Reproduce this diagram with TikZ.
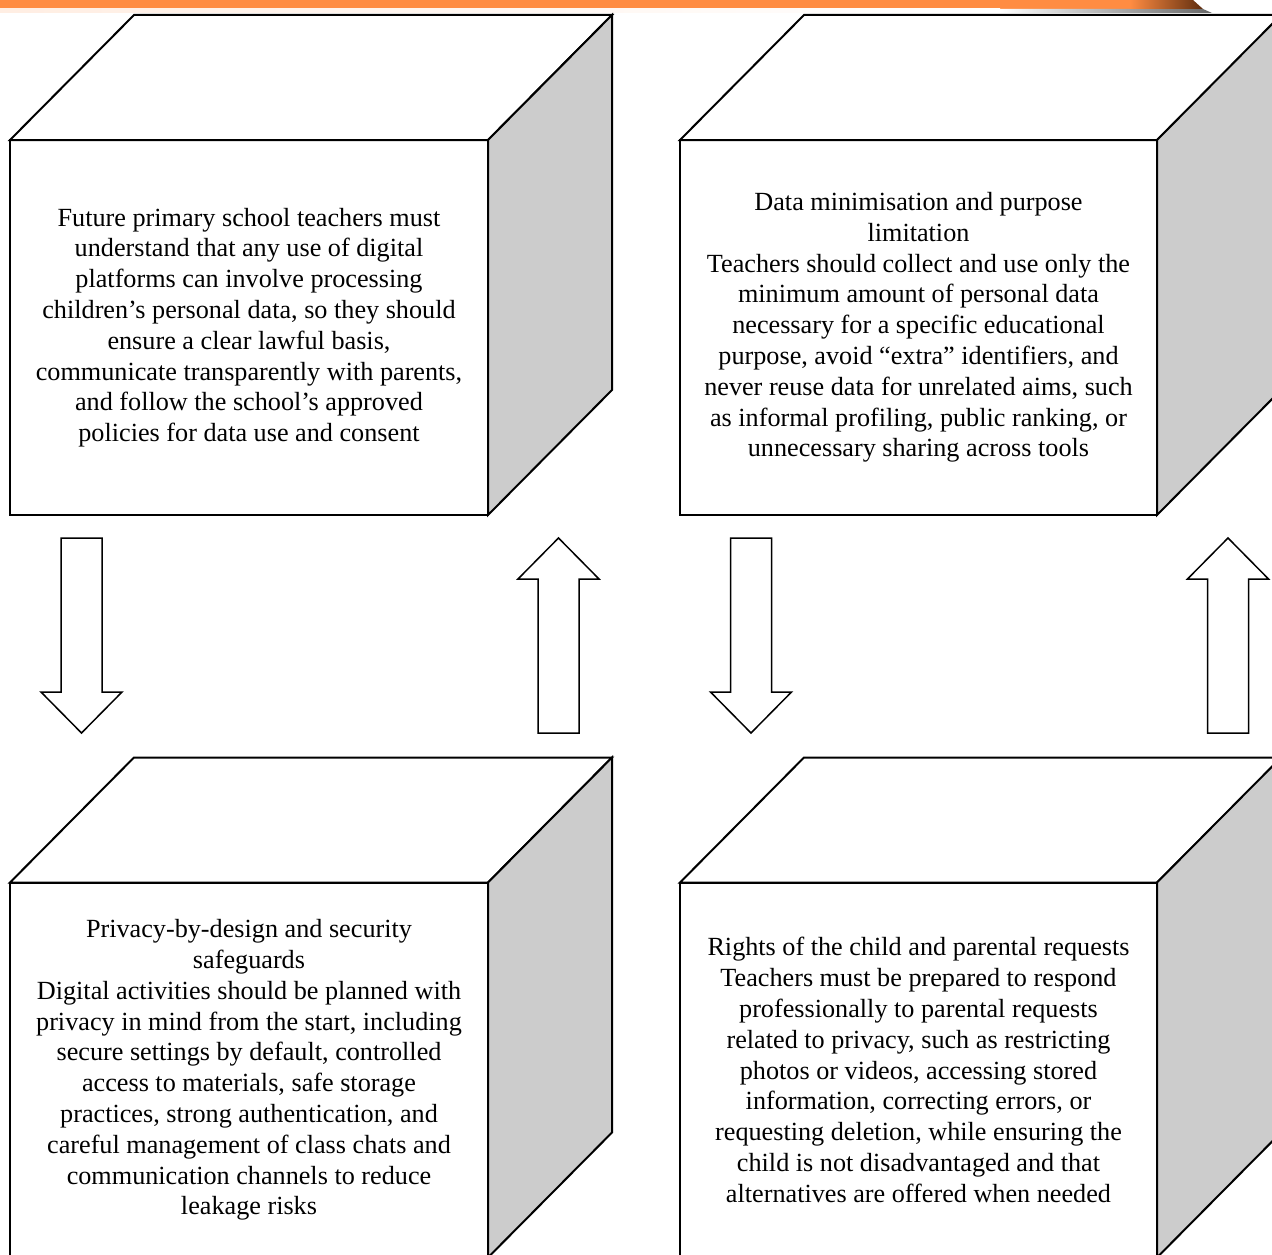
\documentclass[tikz,border=0pt]{standalone}
\usepackage{fontspec}
\setmainfont{Liberation Serif}
\usetikzlibrary{calc}
\definecolor{barorange}{RGB}{255,140,66}
\definecolor{barbrown}{RGB}{95,45,15}
\definecolor{sidegray}{RGB}{204,204,204}
\tikzset{
  front/.style={draw, line width=2pt, fill=white, minimum width=478pt, minimum height=375pt,
    align=center, inner sep=0pt, outer sep=0pt, font=\fontsize{26.2}{30.8}\selectfont},
  face/.style={draw, line width=2pt, line join=miter, fill=white},
  sideface/.style={face, fill=sidegray},
  blockarr/.style={draw, line width=1.5pt, fill=white, line join=miter}
}
% top and side of a box, hung on the front node
\newcommand{\boxfaces}[1]{%
  \draw[face] (#1.north west) -- ++(124,-125) -- ++(478,0) -- (#1.north east) -- cycle;
  \draw[sideface] (#1.north east) -- ++(124,-125) -- ++(0,375) -- (#1.south east) -- cycle;}
% hollow arrows: x, top, bottom
\newcommand{\blkdown}[3]{%
  \draw[blockarr] (#1-20.5,#2) -- (#1+20.5,#2) -- (#1+20.5,#3-41) -- (#1+40.5,#3-41)
    -- (#1,#3) -- (#1-40.5,#3-41) -- (#1-20.5,#3-41) -- cycle;}
\newcommand{\blkup}[3]{%
  \draw[blockarr] (#1-20.5,#3) -- (#1+20.5,#3) -- (#1+20.5,#2+41) -- (#1+40.5,#2+41)
    -- (#1,#2) -- (#1-40.5,#2+41) -- (#1-20.5,#2+41) -- cycle;}

\begin{document}
\begin{tikzpicture}[x=1pt, y=-1pt]
    \useasboundingbox (0,0) rectangle (1272,1255);
    \clip (0,0) rectangle (1272,1255);
    \fill[white] (0,0) rectangle (1272,1255);

    % bar along the top
    \fill[barorange] (0,0) rectangle (1140,9);
    \shade[left color=barorange!15, right color=white] (0,9) rectangle (1000,13);
    \shade[left color=white, right color=gray!80!black] (1000,9) -- (1203,9) -- (1212,13) -- (1000,13) -- cycle;
    \shade[left color=barorange, right color=barbrown] (1130,0) -- (1193,0) -- (1203,9) -- (1130,9) -- cycle;

    \node[front] (lawful) at (249,327.5) {Future primary school teachers must\\
      understand that any use of digital\\
      platforms can involve processing\\
      children’s personal data, so they should\\
      ensure a clear lawful basis,\\
      communicate transparently with parents,\\
      and follow the school’s approved\\
      policies for data use and consent};
    \node[front, minimum width=477pt] (minim) at (918.5,327.5) {Data minimisation and purpose\\
      limitation\\
      Teachers should collect and use only the\\
      minimum amount of personal data\\
      necessary for a specific educational\\
      purpose, avoid “extra” identifiers, and\\
      never reuse data for unrelated aims, such\\
      as informal profiling, public ranking, or\\
      unnecessary sharing across tools};
    \node[front] (design) at (249,1070) {Privacy-by-design and security\\
      safeguards\\
      Digital activities should be planned with\\
      privacy in mind from the start, including\\
      secure settings by default, controlled\\
      access to materials, safe storage\\
      practices, strong authentication, and\\
      careful management of class chats and\\
      communication channels to reduce\\
      leakage risks};
    \node[front, minimum width=477pt] (rights) at (918.5,1070) {Rights of the child and parental requests\\
      Teachers must be prepared to respond\\
      professionally to parental requests\\
      related to privacy, such as restricting\\
      photos or videos, accessing stored\\
      information, correcting errors, or\\
      requesting deletion, while ensuring the\\
      child is not disadvantaged and that\\
      alternatives are offered when needed};

    \boxfaces{lawful}
    \boxfaces{minim}
    \boxfaces{design}
    \boxfaces{rights}

    \blkdown{81.5}{538}{733}
    \blkup{558.5}{538}{733}
    \blkdown{751}{538}{733}
    \blkup{1228}{538}{733}
\end{tikzpicture}
\end{document}
